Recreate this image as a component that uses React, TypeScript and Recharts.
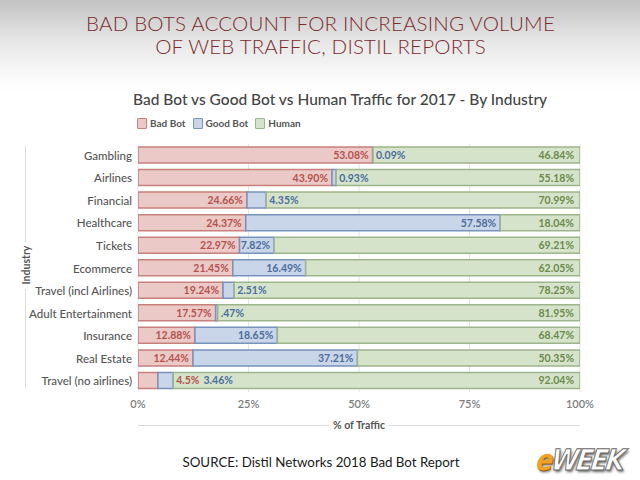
import { BarChart, Bar, XAxis, YAxis, CartesianGrid, LabelList } from 'recharts';

const industries = [
  'Gambling',
  'Airlines',
  'Financial',
  'Healthcare',
  'Tickets',
  'Ecommerce',
  'Travel (incl Airlines)',
  'Adult Entertainment',
  'Insurance',
  'Real Estate',
  'Travel (no airlines)',
];

// values kept as printed in the report
const badBot = ['53.08', '43.90', '24.66', '24.37', '22.97', '21.45', '19.24', '17.57', '12.88', '12.44', '4.5'];
const goodBot = ['0.09', '0.93', '4.35', '57.58', '7.82', '16.49', '2.51', '.47', '18.65', '37.21', '3.46'];
const human = ['46.84', '55.18', '70.99', '18.04', '69.21', '62.05', '78.25', '81.95', '68.47', '50.35', '92.04'];

const xTicks = [0, 25, 50, 75, 100];

const FONT = "Lato, 'Open Sans', sans-serif";
const BAD = { fill: '#ebc9c7', stroke: '#c9807d', text: '#b5524e' };
const GOOD = { fill: '#c9d5e8', stroke: '#7793bc', text: '#4a6e9c' };
const HUMAN = { fill: '#d6e3cb', stroke: '#9db58b', text: '#6b8a4c' };

const data = industries.map((name, i) => ({
  name,
  bad: Number(badBot[i]),
  good: Number(goodBot[i]),
  human: Number(human[i]),
}));

// rough width of a bold 10.5px label
const textW = (s: string) => {
  let w = 0;
  for (const c of s) w += c === '.' ? 2.6 : c === '%' ? 8.5 : 5.6;
  return w;
};

const labelStyle = { fontFamily: FONT, fontSize: 10.5, fontWeight: 700 };

const badFits = (i: number, w: number) => w >= textW(badBot[i] + '%') + 5;

const renderBad = (p: any) => {
  const { x, y, width, height, index } = p;
  const t = badBot[index] + '%';
  const cy = y + height / 2;
  if (badFits(index, width)) {
    return (
      <text x={x + width - 4} y={cy} textAnchor="end" dominantBaseline="central" fill={BAD.text} style={labelStyle}>
        {t}
      </text>
    );
  }
  const goodW = (width * data[index].good) / data[index].bad;
  return (
    <text x={x + width + goodW + 3} y={cy} textAnchor="start" dominantBaseline="central" fill={BAD.text} style={labelStyle}>
      {t}
    </text>
  );
};

const renderGood = (p: any) => {
  const { x, y, width, height, index } = p;
  const t = goodBot[index] + '%';
  const cy = y + height / 2;
  if (width >= textW(t) + 5) {
    return (
      <text x={x + width - 4} y={cy} textAnchor="end" dominantBaseline="central" fill={GOOD.text} style={labelStyle}>
        {t}
      </text>
    );
  }
  const badW = (width * data[index].bad) / Math.max(data[index].good, 0.01);
  let sx = x + width + 3;
  if (!badFits(index, badW)) sx += textW(badBot[index] + '%') + 5;
  return (
    <text x={sx} y={cy} textAnchor="start" dominantBaseline="central" fill={GOOD.text} style={labelStyle}>
      {t}
    </text>
  );
};

const renderHuman = (p: any) => {
  const { x, y, width, height, index } = p;
  return (
    <text x={x + width - 6} y={y + height / 2} textAnchor="end" dominantBaseline="central" fill={HUMAN.text} style={labelStyle}>
      {human[index] + '%'}
    </text>
  );
};

const IndustryTick = (p: any) => {
  const { x, y, payload } = p;
  return (
    <text
      x={x}
      y={y}
      textAnchor="end"
      dominantBaseline="central"
      fill="#555"
      style={{ fontFamily: FONT, fontSize: 11.5, fontWeight: 500 }}
    >
      {payload.value}
    </text>
  );
};

const LegendItem = ({ c, label }: { c: typeof BAD; label: string }) => (
  <span style={{ display: 'inline-flex', alignItems: 'center', marginRight: 7 }}>
    <span
      style={{
        display: 'inline-block',
        width: 8,
        height: 9,
        background: c.fill,
        border: `1px solid ${c.stroke}`,
        marginRight: 3,
        borderRadius: 1,
      }}
    />
    {label}
  </span>
);

export default function App() {
  return (
    <div
      style={{
        position: 'absolute',
        left: 0,
        top: 0,
        width: 640,
        height: 480,
        overflow: 'hidden',
        background: 'linear-gradient(#c3c3c3 0px, #e9e9e9 45px, #fbfbfb 80px, #ffffff 95px)',
        fontFamily: FONT,
      }}
    >
      <div
        style={{
          position: 'absolute',
          top: 12,
          left: 0,
          width: 641,
          textAlign: 'center',
          color: '#7a2b2e',
          fontSize: 20.5,
          fontWeight: 300,
          lineHeight: '23px',
          letterSpacing: 0.2,
        }}
      >
        BAD BOTS ACCOUNT FOR INCREASING VOLUME
        <br />
        OF WEB TRAFFIC, DISTIL REPORTS
      </div>

      <div
        style={{
          position: 'absolute',
          top: 90,
          left: 133,
          fontSize: 15.5,
          fontWeight: 500,
          color: '#454545',
          whiteSpace: 'nowrap',
        }}
      >
        Bad Bot vs Good Bot vs Human Traffic for 2017 - By Industry
      </div>

      <div
        style={{
          position: 'absolute',
          top: 117,
          left: 137,
          fontSize: 10,
          fontWeight: 700,
          color: '#555',
          display: 'flex',
          whiteSpace: 'nowrap',
        }}
      >
        <LegendItem c={BAD} label="Bad Bot" />
        <LegendItem c={GOOD} label="Good Bot" />
        <LegendItem c={HUMAN} label="Human" />
      </div>

      <div style={{ position: 'absolute', left: 0, top: 0 }}>
        <BarChart
          width={640}
          height={480}
          data={data}
          layout="vertical"
          margin={{ top: 144, right: 60, bottom: 58, left: 8 }}
          barSize={16}
        >
          <CartesianGrid horizontal={false} stroke="#e4e4e4" />
          <XAxis
            type="number"
            domain={[0, 100]}
            allowDataOverflow
            ticks={xTicks}
            tickFormatter={(v) => `${v}%`}
            axisLine={false}
            tickLine={false}
            height={30}
            tick={{ fill: '#7d7d7d', fontSize: 11, fontWeight: 600, fontFamily: FONT }}
          />
          <YAxis
            type="category"
            dataKey="name"
            width={130}
            axisLine={false}
            tickLine={false}
            tickSize={4}
            tickMargin={2}
            interval={0}
            tick={IndustryTick}
          />
          <Bar dataKey="bad" stackId="a" fill={BAD.fill} stroke={BAD.stroke} strokeWidth={1.5} isAnimationActive={false}>
            <LabelList dataKey="bad" content={renderBad} />
          </Bar>
          <Bar dataKey="good" stackId="a" fill={GOOD.fill} stroke={GOOD.stroke} strokeWidth={1.5} isAnimationActive={false}>
            <LabelList dataKey="good" content={renderGood} />
          </Bar>
          <Bar dataKey="human" stackId="a" fill={HUMAN.fill} stroke={HUMAN.stroke} strokeWidth={1.5} isAnimationActive={false}>
            <LabelList dataKey="human" content={renderHuman} />
          </Bar>
        </BarChart>
      </div>

      {/* y-axis title with its rule */}
      <div style={{ position: 'absolute', left: 25, top: 146, width: 1, height: 96, background: '#dcdcdc' }} />
      <div style={{ position: 'absolute', left: 25, top: 289, width: 1, height: 99, background: '#dcdcdc' }} />
      <div
        style={{
          position: 'absolute',
          left: 26,
          top: 265,
          transform: 'translate(-50%, -50%) rotate(-90deg)',
          fontSize: 10.5,
          fontWeight: 700,
          color: '#555',
          whiteSpace: 'nowrap',
        }}
      >
        Industry
      </div>

      {/* x-axis title with its rule */}
      <div style={{ position: 'absolute', left: 138, top: 425, width: 191, height: 1, background: '#dcdcdc' }} />
      <div style={{ position: 'absolute', left: 389, top: 425, width: 191, height: 1, background: '#dcdcdc' }} />
      <div
        style={{
          position: 'absolute',
          left: 359,
          top: 425,
          transform: 'translate(-50%, -50%)',
          fontSize: 10.5,
          fontWeight: 700,
          color: '#555',
          whiteSpace: 'nowrap',
        }}
      >
        % of Traffic
      </div>

      <div
        style={{
          position: 'absolute',
          top: 454,
          left: 0,
          width: 642,
          textAlign: 'center',
          fontSize: 13.3,
          color: '#1a1a1a',
          whiteSpace: 'nowrap',
        }}
      >
        SOURCE: Distil Networks 2018 Bad Bot Report
      </div>

      <div
        style={{
          position: 'absolute',
          left: 537,
          top: 444,
          fontSize: 29,
          fontWeight: 900,
          fontStyle: 'italic',
          fontFamily: "'DejaVu Sans', sans-serif",
          letterSpacing: -2.5,
          transform: 'skewX(-8deg) scaleX(0.85)',
          transformOrigin: 'left center',
          whiteSpace: 'nowrap',
          lineHeight: '32px',
        }}
      >
        <span style={{ color: '#f0a224', textShadow: '1px 1px 0 #8a5a10, 2px 2px 3px rgba(0,0,0,0.5)' }}>e</span>
        <span
          style={{
            color: '#ffffff',
            WebkitTextStroke: '1px #6a6a6a',
            textShadow: '2px 2px 3px rgba(0,0,0,0.6)',
          }}
        >
          WEEK
        </span>
      </div>
    </div>
  );
}
